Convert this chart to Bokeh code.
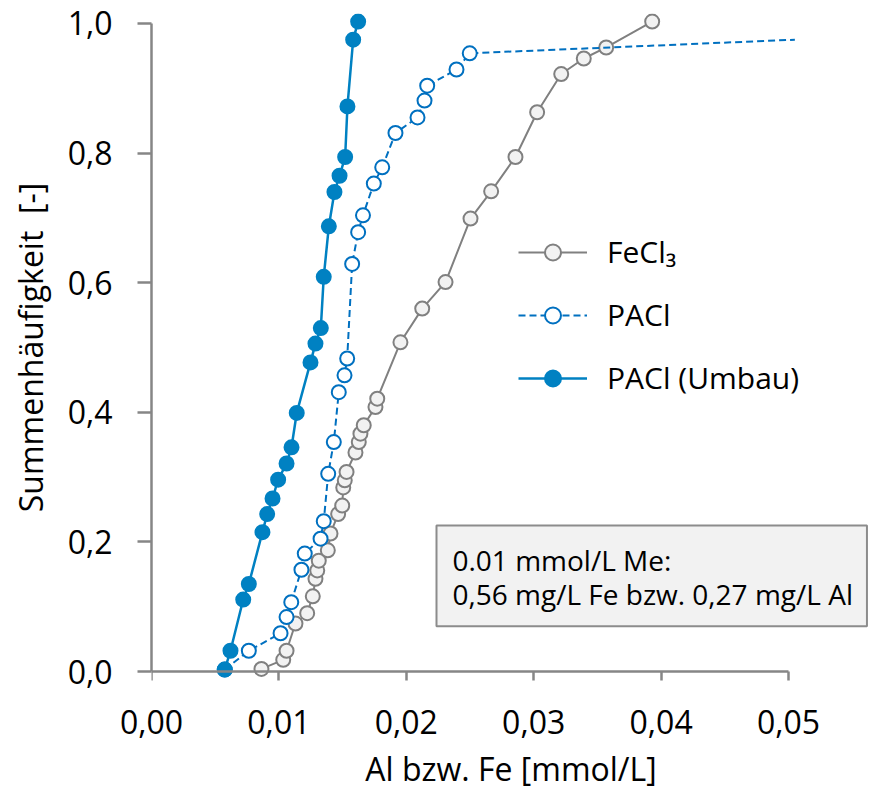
from bokeh.plotting import figure
from bokeh.models import Range1d, FixedTicker, Legend, LegendItem, Label, LinearAxis
from bokeh.embed import file_html
from bokeh.resources import INLINE

# ---- data ----
fecl3_x = [0.00863, 0.01034, 0.0106, 0.0113, 0.01222, 0.01266, 0.01287, 0.01301, 0.01313,
           0.01384, 0.01405, 0.01465, 0.01497, 0.01505, 0.01517, 0.01531, 0.01601, 0.01627,
           0.0164, 0.01666, 0.01758, 0.01772, 0.01954, 0.02125, 0.02308, 0.02504, 0.02666,
           0.02857, 0.03027, 0.03216, 0.03393, 0.03569, 0.0393]
fecl3_y = [0.004, 0.018, 0.032, 0.074, 0.090, 0.116, 0.143, 0.156, 0.171,
           0.187, 0.213, 0.243, 0.256, 0.284, 0.295, 0.308, 0.338, 0.354,
           0.367, 0.380, 0.408, 0.421, 0.508, 0.560, 0.601, 0.699, 0.741,
           0.794, 0.863, 0.922, 0.946, 0.963, 1.003]

# PACl: measured points; the line leaves the chart at its right edge (last value, no marker visible)
pacl_x = [0.00575, 0.00764, 0.01013, 0.0106, 0.01097, 0.01177, 0.01203, 0.01327, 0.01352,
          0.01387, 0.01431, 0.0147, 0.01515, 0.01536, 0.01575, 0.01622, 0.0166, 0.01745,
          0.01811, 0.01915, 0.02088, 0.02143, 0.02164, 0.02394, 0.02498, 0.0505]
pacl_y = [0.003, 0.032, 0.059, 0.084, 0.107, 0.157, 0.182, 0.205, 0.232,
          0.305, 0.354, 0.431, 0.457, 0.483, 0.629, 0.678, 0.704, 0.753,
          0.778, 0.831, 0.855, 0.881, 0.904, 0.929, 0.954, 0.975]
pacl_marked = 25  # number of PACl points whose markers lie inside the chart

umbau_x = [0.00575, 0.0062, 0.0072, 0.00764, 0.00871, 0.00908, 0.0095, 0.00994, 0.0106,
           0.01099, 0.0114, 0.01248, 0.01287, 0.01329, 0.01352, 0.01392, 0.01436, 0.01476,
           0.0152, 0.01538, 0.01583, 0.01622]
umbau_y = [0.003, 0.032, 0.111, 0.135, 0.215, 0.243, 0.267, 0.296, 0.321,
           0.346, 0.399, 0.477, 0.506, 0.530, 0.609, 0.687, 0.740, 0.765,
           0.794, 0.872, 0.975, 1.003]

x_ticks = [0.0, 0.01, 0.02, 0.03, 0.04, 0.05]
x_tick_labels = ["0,00", "0,01", "0,02", "0,03", "0,04", "0,05"]
y_ticks = [0.0, 0.2, 0.4, 0.6, 0.8, 1.0]
y_tick_labels = ["0,0", "0,2", "0,4", "0,6", "0,8", "1,0"]

series_labels = ["FeCl\u2083", "PACl", "PACl (Umbau)"]
note_text = "0.01 mmol/L Me:\n0,56 mg/L Fe bzw. 0,27 mg/L Al"

FONT = "Open Sans"
GRAY = "#808080"
AXIS_GRAY = "#868686"
BLUE_D = "#0070c0"
BLUE_F = "#0081c2"

X_END = 0.05 + 82 / 12740.0
p = figure(frame_width=719, frame_height=668,
           x_range=Range1d(0, X_END), y_range=Range1d(-0.015432, 1.015432),
           output_backend="svg", toolbar_location=None,
           min_border_left=151, min_border_right=8, min_border_top=13, min_border_bottom=109)
p.outline_line_color = None
p.background_fill_color = "white"
p.border_fill_color = "white"
p.xgrid.visible = False
p.ygrid.visible = False

# series
r1l = p.line(fecl3_x, fecl3_y, line_color=GRAY, line_width=2)
r1s = p.scatter(fecl3_x, fecl3_y, size=14, fill_color="#f2f2f2", line_color=GRAY, line_width=2)
r2l = p.line(pacl_x, pacl_y, line_color=BLUE_D, line_width=2, line_dash="7 4")
r2s = p.scatter(pacl_x[:pacl_marked], pacl_y[:pacl_marked], size=14, fill_color="white",
                line_color=BLUE_D, line_width=2)
r3l = p.line(umbau_x, umbau_y, line_color=BLUE_F, line_width=2.5)
r3s = p.scatter(umbau_x, umbau_y, size=14, fill_color=BLUE_F, line_color=BLUE_F, line_width=2)

# y axis
ya = p.yaxis[0]
ya.ticker = FixedTicker(ticks=y_ticks)
ya.major_label_overrides = dict(zip(y_ticks, y_tick_labels))
ya.bounds = (0, 1)
ya.axis_line_color = AXIS_GRAY
ya.axis_line_width = 2.5
ya.major_tick_line_color = AXIS_GRAY
ya.major_tick_line_width = 2.5
ya.minor_tick_line_color = None
ya.major_tick_in = 0
ya.major_tick_out = 14
ya.major_label_standoff = 25
ya.major_label_text_font = FONT
ya.major_label_text_font_size = "32px"
ya.major_label_text_color = "black"
ya.axis_label = "Summenhäufigkeit\u00a0 [-]"
ya.axis_label_standoff = 13
ya.axis_label_text_font = FONT
ya.axis_label_text_font_size = "32px"
ya.axis_label_text_font_style = "normal"
ya.axis_label_text_color = "black"

# x axis: labels and title at the bottom
xa = p.xaxis[0]
xa.ticker = FixedTicker(ticks=x_ticks)
xa.major_label_overrides = dict(zip(x_ticks, x_tick_labels))
xa.axis_line_color = None
xa.major_tick_line_color = None
xa.minor_tick_line_color = None
xa.major_tick_in = 0
xa.major_tick_out = 0
xa.major_label_standoff = 28
xa.major_label_text_font = FONT
xa.major_label_text_font_size = "32px"
xa.major_label_text_color = "black"
xa.axis_label = "Al bzw. Fe [mmol/L]"
xa.axis_label_standoff = 10
xa.axis_label_text_font = FONT
xa.axis_label_text_font_size = "32px"
xa.axis_label_text_font_style = "normal"
xa.axis_label_text_color = "black"

# x axis line and ticks at y = 0 (no labels of its own)
xline = LinearAxis(ticker=FixedTicker(ticks=x_ticks), fixed_location=0, bounds=(0, 0.05),
                   axis_line_color=AXIS_GRAY, axis_line_width=2.5,
                   major_tick_line_color=AXIS_GRAY, major_tick_line_width=2.5,
                   minor_tick_line_color=None, major_tick_in=9, major_tick_out=0,
                   major_label_overrides={t: "" for t in x_ticks},
                   major_label_text_font_size="1px", major_label_standoff=0)
p.add_layout(xline, "above")

# legend
legend = Legend(items=[
    LegendItem(label=series_labels[0], renderers=[r1l, r1s]),
    LegendItem(label=series_labels[1], renderers=[r2l, r2s]),
    LegendItem(label=series_labels[2], renderers=[r3l, r3s]),
], location=(367, 283))
legend.glyph_width = 69
legend.glyph_height = 40
legend.label_height = 40
legend.spacing = 22
legend.padding = 0
legend.margin = 0
legend.label_standoff = 20
legend.label_text_font = FONT
legend.label_text_font_size = "30px"
legend.label_text_color = "black"
legend.border_line_color = None
legend.background_fill_alpha = 0
p.add_layout(legend)

# note box
note = Label(x=0.02237, y=0.0699, text=note_text,
             text_font=FONT, text_font_size="28px", text_color="black",
             text_align="left", text_baseline="bottom", text_line_height=0.89,
             background_fill_color="#f2f2f2", border_line_color="#8c8c8c",
             border_line_width=2, padding=(16, 14, 16, 13))
p.add_layout(note)

open("out.html", "w").write(file_html(p, INLINE))
